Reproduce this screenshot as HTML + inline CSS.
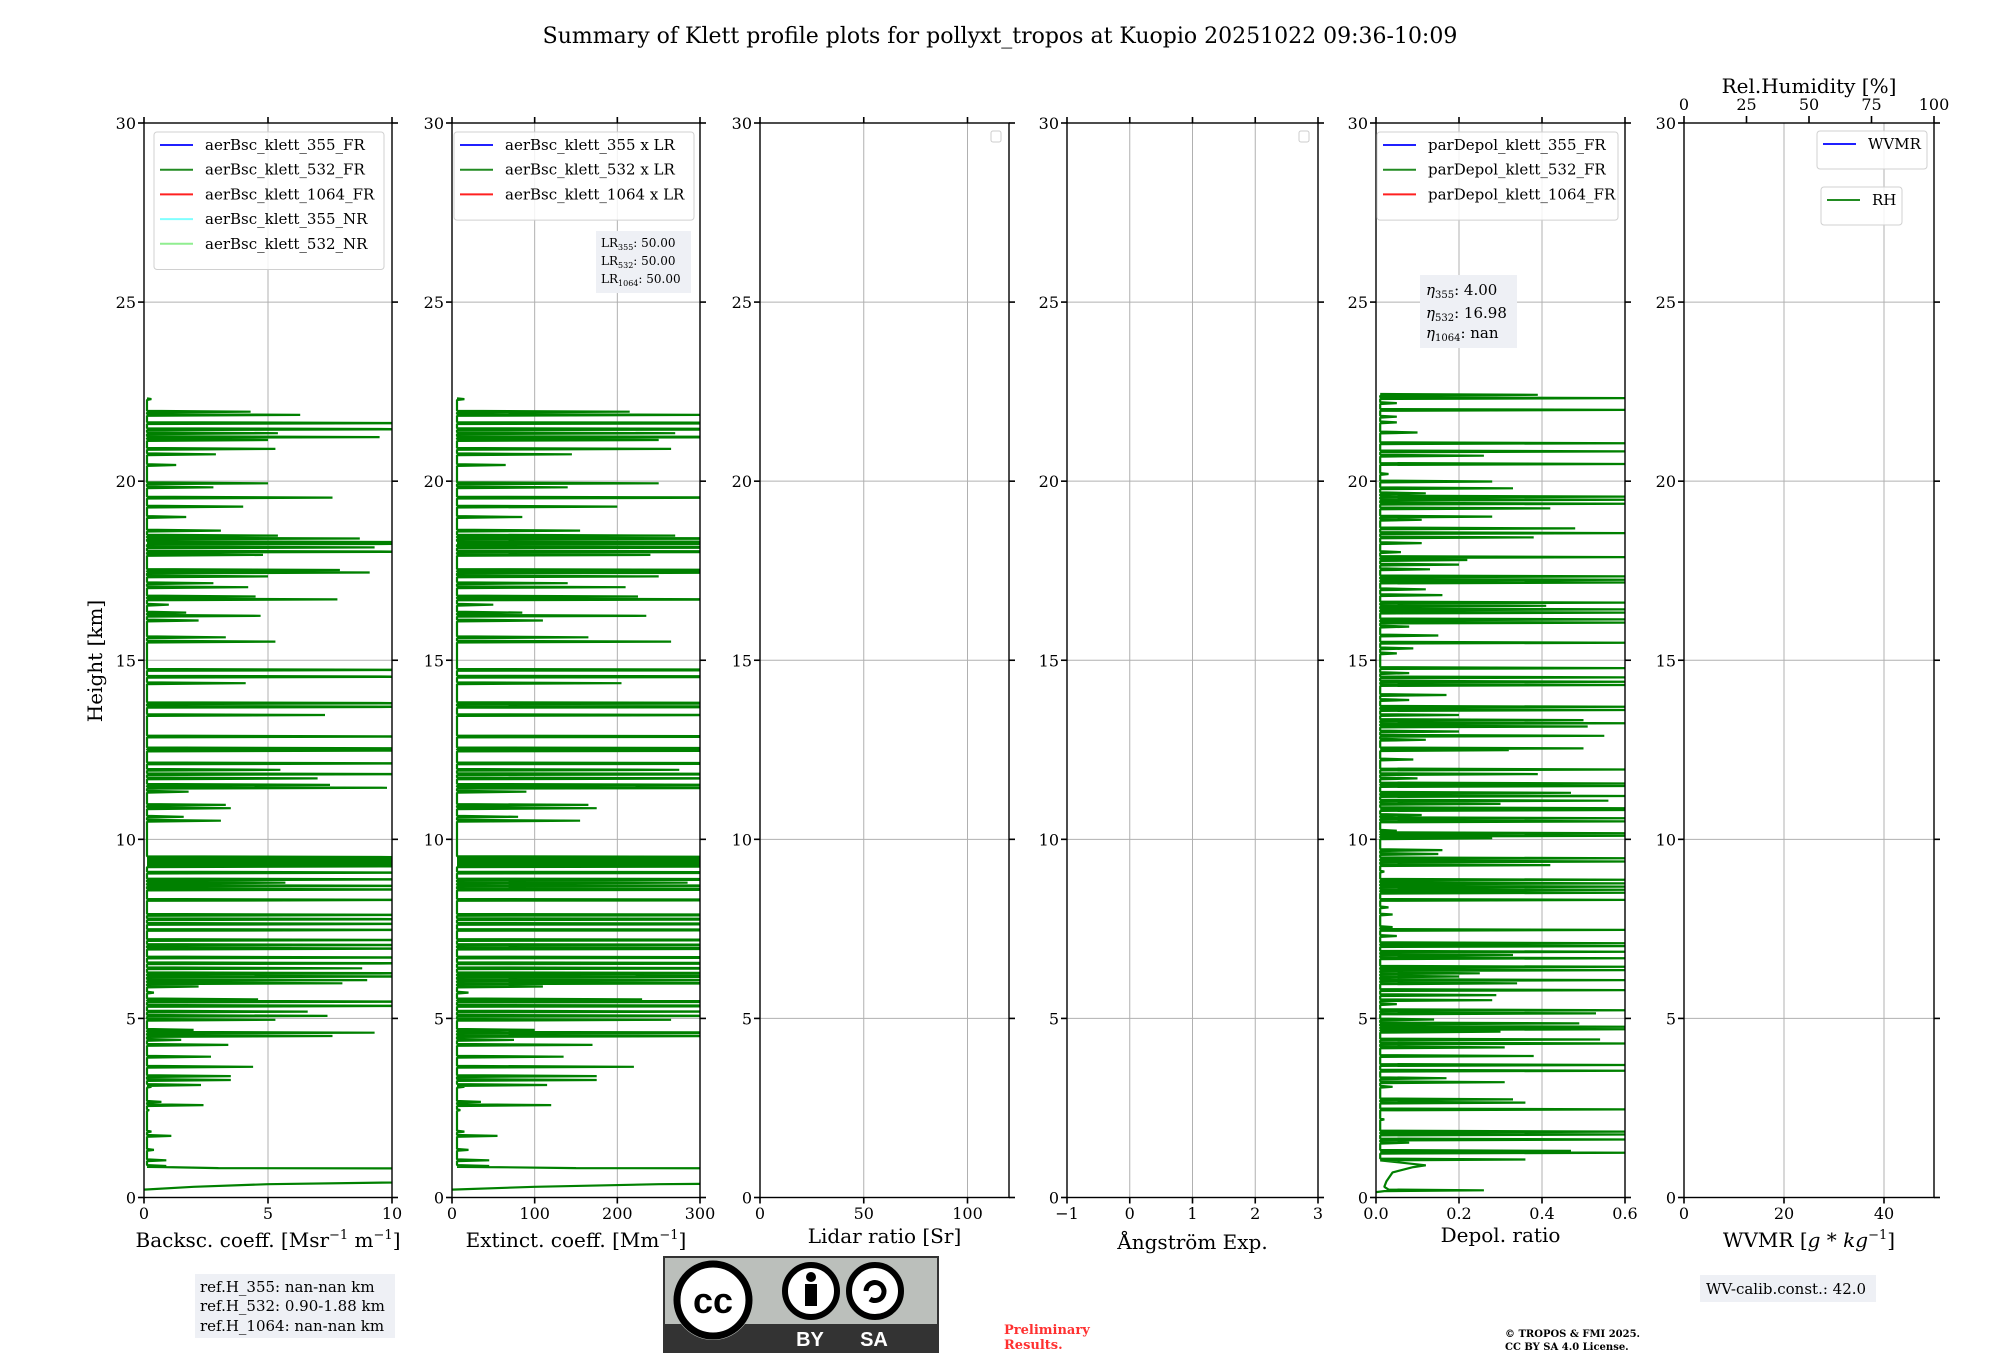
<!DOCTYPE html>
<html><head><meta charset="utf-8">
<style>
html,body{margin:0;padding:0;background:#fff;}
svg{display:block;font-family:"DejaVu Serif","Liberation Serif",serif;}
</style></head>
<body>
<svg id="fig" width="2000" height="1360" viewBox="0 0 2000 1360" xmlns="http://www.w3.org/2000/svg">
<text x="1000" y="43" font-size="22" text-anchor="middle">Summary of Klett profile plots for pollyxt_tropos at Kuopio 20251022 09:36-10:09</text>
<text x="0" y="0" font-size="20" text-anchor="middle" transform="translate(102,661) rotate(-90)">Height [km]</text>
<g id="panels"></g>
<g id="overlay"></g>
</svg>
<script>
// ---------- data ----------
const heightTicks = [0,5,10,15,20,25,30];
const lidarRatio = [50.00, 50.00, 50.00];
const bscBase = 0.12;
const depBase = 0.01;
const spikeHalfWidth = 0.025;
const bscH = [22.29,21.94,21.85,21.62,21.45,21.34,21.23,21.15,20.9,20.75,20.45,19.94,19.83,19.54,19.29,19.0,18.62,18.48,18.4,18.3,18.25,18.15,18.03,17.94,17.52,17.45,17.34,17.15,17.04,16.78,16.7,16.55,16.33,16.24,16.11,15.64,15.52,14.73,14.54,14.36,13.8,13.7,13.47,12.87,12.54,12.48,12.12,11.94,11.82,11.7,11.52,11.44,11.33,10.96,10.87,10.63,10.52,9.5,9.45,9.4,9.35,9.3,9.25,9.07,8.88,8.79,8.7,8.6,8.31,7.89,7.77,7.64,7.47,7.19,7.05,6.95,6.7,6.54,6.4,6.26,6.17,6.07,5.98,5.89,5.72,5.53,5.47,5.35,5.19,5.07,4.96,4.68,4.6,4.51,4.4,4.26,3.93,3.65,3.39,3.28,3.14,3.09,2.67,2.58,2.44,1.84,1.72,1.33,1.04,0.88];
const bscV = [0.3,4.3,6.3,12,12,5.4,9.5,5,5.3,2.9,1.3,5,2.8,7.6,4,1.7,3.1,5.4,8.7,12,12,9.3,12,4.8,7.9,9.1,5,2.8,4.2,4.5,7.8,1,1.7,4.7,2.2,3.3,5.3,12,12,4.1,12,12,7.3,12,12,12,12,5.5,12,7,7.5,9.8,1.8,3.3,3.5,1.6,3.1,12,12,12,12,12,12,12,12,5.7,12,12,12,12,12,12,12,12,12,12,12,12,8.8,12,12,9,8,2.2,0.4,4.6,12,12,6.6,7.4,5.3,2,9.3,7.6,1.5,3.4,2.7,4.4,3.5,3.5,2.3,0.3,0.7,2.4,0.2,0.3,1.1,0.4,0.9,0.9];
const bscNearH = [0.85,0.82,0.81,0.45,0.42,0.37,0.3,0.22];
const bscNearV = [0.9,3,12,12,10,5,2,0];
const depH = [22.41,22.32,22.18,21.99,21.8,21.64,21.36,21.06,20.83,20.71,20.48,20.2,19.99,19.8,19.66,19.57,19.48,19.37,19.24,19.01,18.92,18.68,18.55,18.43,18.27,18.02,17.88,17.8,17.67,17.54,17.34,17.25,17.17,16.98,16.82,16.61,16.52,16.42,16.33,16.14,16.05,15.94,15.69,15.49,15.33,15.19,14.78,14.64,14.52,14.4,14.31,14.03,13.89,13.7,13.61,13.47,13.33,13.24,13.15,13.01,12.89,12.78,12.54,12.49,12.23,11.95,11.82,11.7,11.56,11.49,11.3,11.21,11.08,10.99,10.87,10.82,10.68,10.59,10.5,10.24,10.17,10.1,10.03,9.7,9.59,9.47,9.38,9.28,9.1,8.87,8.77,8.68,8.59,8.51,8.31,8.1,7.9,7.55,7.47,7.3,7.1,7.02,6.86,6.77,6.68,6.44,6.35,6.26,6.17,6.07,5.98,5.79,5.65,5.51,5.4,5.23,5.14,4.97,4.86,4.77,4.7,4.63,4.41,4.3,4.19,3.95,3.7,3.54,3.33,3.22,3.09,2.74,2.65,2.46,2.18,1.84,1.76,1.62,1.53,1.3,1.25,1.06];
const depV = [.39,.62,.05,.62,.05,.05,.1,.62,.62,.26,.62,.03,.28,.33,.12,.62,.62,.62,.42,.28,.11,.48,.62,.38,.11,.06,.62,.22,.2,.13,.62,.62,.62,.12,.16,.62,.41,.62,.62,.62,.62,.08,.15,.62,.09,.05,.62,.08,.62,.62,.62,.17,.08,.62,.62,.2,.5,.62,.51,.2,.55,.12,.5,.32,.09,.62,.39,.1,.62,.62,.47,.62,.56,.3,.62,.62,.11,.62,.62,.05,.62,.62,.28,.16,.15,.62,.62,.42,.02,.62,.62,.62,.62,.62,.62,.03,.04,.04,.62,.05,.62,.62,.62,.33,.62,.62,.62,.25,.2,.62,.34,.62,.29,.28,.05,.62,.53,.14,.49,.62,.62,.3,.54,.62,.31,.38,.62,.62,.17,.31,.04,.33,.36,.62,.02,.62,.62,.62,.08,.47,.62,.36];
const depNearH = [0.9,0.85,0.7,0.45,0.3,0.22,0.2,0.18,0.15];
const depNearV = [0.12,0.09,0.04,0.025,0.02,0.03,0.26,0.02,0.0];

// ---------- layout ----------
const SVGNS="http://www.w3.org/2000/svg";
const TOP=123, BOT=1197.5;
const yScale = h => BOT - (h/30)*(BOT-TOP);
const panels = [
 {x0:144,x1:392,d0:0,d1:10,ticks:[0,5,10],labels:["0","5","10"],xlabel:'Backsc. coeff. [Msr<tspan font-size="13" dy="-8">−1</tspan><tspan dy="8"> m</tspan><tspan font-size="13" dy="-8">−1</tspan><tspan dy="8">]</tspan>',ly:1247,name:"backscatter"},
 {x0:452,x1:700,d0:0,d1:300,ticks:[0,100,200,300],labels:["0","100","200","300"],xlabel:'Extinct. coeff. [Mm<tspan font-size="13" dy="-8">−1</tspan><tspan dy="8">]</tspan>',ly:1247,name:"extinction"},
 {x0:760,x1:1009,d0:0,d1:120,ticks:[0,50,100],labels:["0","50","100"],xlabel:'Lidar ratio [Sr]',ly:1243,name:"lidar-ratio"},
 {x0:1067,x1:1318,d0:-1,d1:3,ticks:[-1,0,1,2,3],labels:["−1","0","1","2","3"],xlabel:'Ångström Exp.',ly:1249,name:"angstrom"},
 {x0:1376,x1:1625,d0:0,d1:0.6,ticks:[0,0.2,0.4,0.6],labels:["0.0","0.2","0.4","0.6"],xlabel:'Depol. ratio',ly:1242,name:"depol"},
 {x0:1684,x1:1934,d0:0,d1:50,ticks:[0,20,40],labels:["0","20","40"],xlabel:'WVMR [<tspan font-style="italic">g</tspan> * <tspan font-style="italic">kg</tspan><tspan font-size="13" dy="-8">−1</tspan><tspan dy="8">]</tspan>',ly:1247,name:"wvmr"}
];
const root=document.getElementById('panels');
function el(tag,attrs,parent){const e=document.createElementNS(SVGNS,tag);for(const k in attrs)e.setAttribute(k,attrs[k]);(parent||root).appendChild(e);return e;}

panels.forEach((p,i)=>{
  const g=el('g',{});
  
  
  const xs=v=>p.x0+(v-p.d0)/(p.d1-p.d0)*(p.x1-p.x0);
  p.xs=xs;
  const cp=el('clipPath',{id:'clip'+i},g);
  el('rect',{x:p.x0,y:TOP,width:p.x1-p.x0,height:BOT-TOP},cp);
  heightTicks.forEach(h=>{
    if(h>0&&h<30){const l=el('line',{x1:p.x0,x2:p.x1,y1:yScale(h),y2:yScale(h),stroke:'#b0b0b0','stroke-width':1},g);
    
    }
  });
  p.ticks.forEach(t=>{const x=xs(t); if(x>p.x0+1&&x<p.x1-1){const l=el('line',{x1:x,x2:x,y1:TOP,y2:BOT,stroke:'#b0b0b0','stroke-width':1},g);
    
    }});
  p.g=g;
});

function drawProfile(p,i,H,V,base,nH,nV,scale,name){
  let pts=[];
  for(let k=0;k<H.length;k++){
    pts.push([H[k]+spikeHalfWidth, base*scale]);
    pts.push([H[k],V[k]*scale]);
    pts.push([H[k]-spikeHalfWidth, base*scale]);
  }
  for(let k=0;k<nH.length;k++) pts.push([nH[k],nV[k]*scale]);
  const d=pts.map((q,k)=>(k?'L':'M')+p.xs(q[1]).toFixed(1)+','+yScale(q[0]).toFixed(1)).join('');
  const path=el('path',{d:d,fill:'none',stroke:'#008000','stroke-width':2.2,'stroke-linejoin':'bevel','clip-path':'url(#clip'+i+')'},p.g);
  
  
}
drawProfile(panels[0],0,bscH,bscV,bscBase,bscNearH,bscNearV,1,'backscatter-532-line');
drawProfile(panels[1],1,bscH,bscV,bscBase,bscNearH,bscNearV,lidarRatio[1],'extinction-532-line');
drawProfile(panels[4],4,depH,depV,depBase,depNearH,depNearV,1,'depol-532-line');

panels.forEach((p,i)=>{
  const g=p.g;
  el('rect',{x:p.x0,y:TOP,width:p.x1-p.x0,height:BOT-TOP,fill:'none',stroke:'#000','stroke-width':1.4},g);
  heightTicks.forEach(h=>{
    const y=yScale(h);
    el('line',{x1:p.x0-6,x2:p.x0,y1:y,y2:y,stroke:'#000','stroke-width':1.6},g);
    el('line',{x1:p.x1,x2:p.x1+6,y1:y,y2:y,stroke:'#000','stroke-width':1.6},g);
    const t=el('text',{x:p.x0-8,y:y+6,'font-size':16,'text-anchor':'end'},g);
    t.textContent=h;
    
    
  });
  p.ticks.forEach((tv,k)=>{
    const x=p.xs(tv);
    el('line',{x1:x,x2:x,y1:BOT,y2:BOT+6,stroke:'#000','stroke-width':1.6},g);
    if(i!==5) el('line',{x1:x,x2:x,y1:TOP-6,y2:TOP,stroke:'#000','stroke-width':1.6},g);
    const t=el('text',{x:x,y:1219,'font-size':16,'text-anchor':'middle'},g);
    t.textContent=p.labels[k];
    
    
  });
  const lab=el('text',{x:(p.x0+p.x1)/2,y:p.ly,'font-size':20,'text-anchor':'middle'},g);
  lab.innerHTML=p.xlabel;
  
  
});

const rhTicks=[0,25,50,75,100];
(function(){
  const p=panels[5], g=p.g;
  rhTicks.forEach(v=>{
    const x=p.x0+v/100*(p.x1-p.x0);
    el('line',{x1:x,x2:x,y1:TOP-7,y2:TOP,stroke:'#000','stroke-width':1.6},g);
    const t=el('text',{x:x,y:110,'font-size':16,'text-anchor':'middle'},g);
    t.textContent=v;
    
    
  });
  const t=el('text',{x:(p.x0+p.x1)/2,y:93,'font-size':20,'text-anchor':'middle'},g);
  t.textContent='Rel.Humidity [%]';
  
  
})();

function legend(x,y,w,entries,name,spacing){
  const g=el('g',{},document.getElementById('overlay'));
  
  
  const h=entries.length*spacing+14;
  el('rect',{x:x,y:y,width:w,height:h,rx:3,fill:'#fff','fill-opacity':0.85,stroke:'#d0d0d0','stroke-width':1},g);
  entries.forEach((e,k)=>{
    const yy=y+13+k*spacing;
    el('line',{x1:x+6,x2:x+39,y1:yy,y2:yy,stroke:e[1],'stroke-width':2},g);
    const t=el('text',{x:x+51,y:yy+5,'font-size':15},g);
    t.textContent=e[0];
    
    
  });
}
legend(154,132,230,[["aerBsc_klett_355_FR","#2020ff"],["aerBsc_klett_532_FR","#228b22"],["aerBsc_klett_1064_FR","#ff2020"],["aerBsc_klett_355_NR","#80ffff"],["aerBsc_klett_532_NR","#90ee90"]],'backscatter-legend',24.7);
legend(454,132,240,[["aerBsc_klett_355 x LR","#2020ff"],["aerBsc_klett_532 x LR","#228b22"],["aerBsc_klett_1064 x LR","#ff2020"]],'extinction-legend',24.7);
legend(1377,132,241,[["parDepol_klett_355_FR","#2020ff"],["parDepol_klett_532_FR","#228b22"],["parDepol_klett_1064_FR","#ff2020"]],'depol-legend',24.7);
legend(1817,131,110,[["WVMR","#2020ff"]],'wvmr-legend',24);
legend(1821,187,81,[["RH","#228b22"]],'rh-legend',24);
</script>
<svg style="position:absolute;left:0;top:0" width="2000" height="1360">
  <rect x="991" y="131" width="10" height="11" rx="2" fill="#fff" stroke="#ccc"/>
  <rect x="1299" y="131" width="10" height="11" rx="2" fill="#fff" stroke="#ccc"/>
  <g font-family="DejaVu Serif, serif" font-size="12">
    <rect x="596" y="231" width="95" height="62" fill="#eef0f5"/>
    <text x="601" y="247">LR<tspan font-size="8" dy="3">355</tspan><tspan dy="-3">: 50.00</tspan></text>
    <text x="601" y="265">LR<tspan font-size="8" dy="3">532</tspan><tspan dy="-3">: 50.00</tspan></text>
    <text x="601" y="283">LR<tspan font-size="8" dy="3">1064</tspan><tspan dy="-3">: 50.00</tspan></text>
  </g>
  <g font-family="DejaVu Serif, serif" font-size="15">
    <rect x="1420" y="275" width="97" height="73" fill="#eef0f5"/>
    <text x="1426" y="295"><tspan font-style="italic">η</tspan><tspan font-size="10" dy="3">355</tspan><tspan dy="-3">: 4.00</tspan></text>
    <text x="1426" y="318"><tspan font-style="italic">η</tspan><tspan font-size="10" dy="3">532</tspan><tspan dy="-3">: 16.98</tspan></text>
    <text x="1426" y="338"><tspan font-style="italic">η</tspan><tspan font-size="10" dy="3">1064</tspan><tspan dy="-3">: nan</tspan></text>
  </g>
  <g font-family="DejaVu Serif, serif" font-size="15">
    <rect x="195" y="1274" width="200" height="64" fill="#eef0f5"/>
    <text x="200" y="1292">ref.H_355: nan-nan km</text>
    <text x="200" y="1311">ref.H_532: 0.90-1.88 km</text>
    <text x="200" y="1331">ref.H_1064: nan-nan km</text>
  </g>
  <g>
    <rect x="664" y="1257" width="274" height="95" fill="#bbbfbb" stroke="#333" stroke-width="2"/>
    <rect x="664" y="1324" width="274" height="28" fill="#333"/>
    <circle cx="713" cy="1300" r="40" fill="#bbbfbb"/>
    <circle cx="713" cy="1300" r="36" fill="#fff" stroke="#000" stroke-width="7"/>
    <text x="713" y="1313" font-family="Liberation Sans, sans-serif" font-weight="bold" font-size="36" text-anchor="middle">cc</text>
    <circle cx="811" cy="1291" r="26" fill="#fff" stroke="#000" stroke-width="6"/>
    <circle cx="811" cy="1277" r="5" fill="#000"/>
    <rect x="805" y="1284" width="12" height="22" fill="#000"/>
    <circle cx="875" cy="1291" r="26" fill="#fff" stroke="#000" stroke-width="6"/>
    <path d="M866,1291 a9,9 0 1 1 4,8" fill="none" stroke="#000" stroke-width="5"/>
    <text x="810" y="1346" fill="#fff" font-family="Liberation Sans, sans-serif" font-weight="bold" font-size="20" text-anchor="middle">BY</text>
    <text x="874" y="1346" fill="#fff" font-family="Liberation Sans, sans-serif" font-weight="bold" font-size="20" text-anchor="middle">SA</text>
  </g>
  <g fill="#ff3030" font-family="DejaVu Serif, serif" font-weight="bold" font-size="13">
    <text x="1004" y="1334">Preliminary</text>
    <text x="1004" y="1349">Results.</text>
  </g>
  <g font-family="DejaVu Serif, serif" font-weight="bold" font-size="10">
    <text x="1505" y="1337">© TROPOS &amp; FMI 2025.</text>
    <text x="1505" y="1350">CC BY SA 4.0 License.</text>
  </g>
  <g font-family="DejaVu Serif, serif" font-size="15">
    <rect x="1700" y="1275" width="176" height="27" fill="#eef0f5"/>
    <text x="1706" y="1294">WV-calib.const.: 42.0</text>
  </g>
</svg>
</body></html>
